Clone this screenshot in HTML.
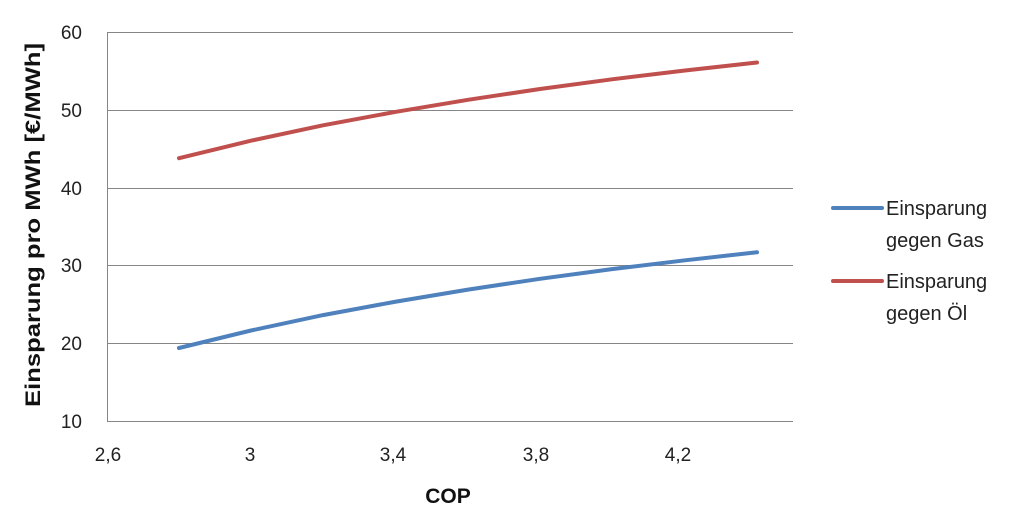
<!DOCTYPE html>
<html><head><meta charset="utf-8"><style>
body{margin:0;background:#fff;}
svg{display:block;font-family:"Liberation Sans",sans-serif;}
</style></head><body>
<svg width="1024" height="521" viewBox="0 0 1024 521">
<g stroke="#868686" stroke-width="1">
<line x1="107" y1="32.5" x2="793" y2="32.5"/>
<line x1="107" y1="110.5" x2="793" y2="110.5"/>
<line x1="107" y1="188.5" x2="793" y2="188.5"/>
<line x1="107" y1="265.5" x2="793" y2="265.5"/>
<line x1="107" y1="343.5" x2="793" y2="343.5"/>
<line x1="107" y1="421.5" x2="793" y2="421.5"/>
<line x1="107.5" y1="32" x2="107.5" y2="421"/>
</g>
<g font-size="19" fill="#222" text-anchor="end">
<text x="82" y="39">60</text>
<text x="82" y="117">50</text>
<text x="82" y="195">40</text>
<text x="82" y="272">30</text>
<text x="82" y="350">20</text>
<text x="82" y="428">10</text>
</g>
<g font-size="19" fill="#222" text-anchor="middle">
<text x="108" y="461">2,6</text>
<text x="250" y="461">3</text>
<text x="393" y="461">3,4</text>
<text x="536" y="461">3,8</text>
<text x="678" y="461">4,2</text>
</g>
<text x="448" y="503" font-size="21" font-weight="bold" text-anchor="middle" fill="#111">COP</text>
<text transform="translate(40,225) rotate(-90)" font-size="21" font-weight="bold" text-anchor="middle" fill="#111" textLength="364" lengthAdjust="spacingAndGlyphs">Einsparung pro MWh [€/MWh]</text>
<polyline fill="none" stroke="#c0504d" stroke-width="4" stroke-linecap="round" points="179,158.2 251,140.7 323,125.3 396,111.8 468,99.8 540,89 612,79.3 685,70.5 757,62.5"/>
<polyline fill="none" stroke="#4f81bd" stroke-width="4" stroke-linecap="round" points="179,348 251,330.5 323,315.1 396,301.6 468,289.6 540,278.8 612,269.1 685,260.3 757,252.3"/>
<line x1="833" y1="208" x2="882" y2="208" stroke="#4f81bd" stroke-width="4" stroke-linecap="round"/>
<line x1="833" y1="281" x2="882" y2="281" stroke="#c0504d" stroke-width="4" stroke-linecap="round"/>
<g font-size="20" fill="#222">
<text x="886" y="215">Einsparung</text>
<text x="886" y="247">gegen Gas</text>
<text x="886" y="288">Einsparung</text>
<text x="886" y="320">gegen Öl</text>
</g>
</svg>
</body></html>
